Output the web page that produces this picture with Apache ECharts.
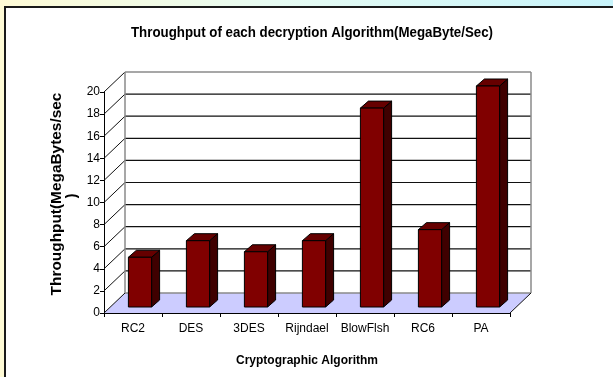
<!DOCTYPE html>
<html>
<head>
<meta charset="utf-8">
<style>
  html, body { margin: 0; padding: 0; background: #ffffff; }
  #chart { width: 613px; height: 377px; }
</style>
<script src="https://cdn.jsdelivr.net/npm/echarts@6/dist/echarts.min.js"></script>
</head>
<body>
<div id="chart"></div>
<script>
// Decryption throughput per algorithm (MegaBytes/sec)
const categories = ['RC2', 'DES', '3DES', 'Rijndael', 'BlowFlsh', 'RC6', 'PA'];
const throughput = [4.5, 6, 5, 6, 18, 7, 20];
const yTicks = [0, 2, 4, 6, 8, 10, 12, 14, 16, 18, 20];

const FONT = '"Liberation Sans", Arial, sans-serif';

// depth of the 3D box (pixels) and position/depth of the columns inside it
const WALL_DX = 21, WALL_DY = -20;
const BAR_FX = 7, BAR_FY = -6;
const BAR_DX = 8, BAR_DY = -7;

const chart = echarts.init(document.getElementById('chart'), null, { renderer: 'canvas' });

// back wall, side-wall gridlines and the floor
function renderBox(params, api) {
  const bw = api.size([1, 0])[0];
  const first = api.coord([0, 0]);
  const last = api.coord([categories.length - 1, 0]);
  const left = first[0] - bw / 2;
  const right = last[0] + bw / 2;
  const y0 = first[1];
  const yTop = api.coord([0, yTicks[yTicks.length - 1]])[1];
  const children = [];

  // floor
  children.push({
    type: 'polygon',
    shape: { points: [[left, y0], [right, y0], [right + WALL_DX, y0 + WALL_DY], [left + WALL_DX, y0 + WALL_DY]] },
    style: { fill: '#ccccff', stroke: null }
  });

  yTicks.forEach(function (v, i) {
    const y = api.coord([0, v])[1];
    const edge = (i === 0 || i === yTicks.length - 1);
    // gridline on the back wall
    children.push({
      type: 'line',
      shape: { x1: left + WALL_DX, y1: y + WALL_DY, x2: right + WALL_DX, y2: y + WALL_DY },
      style: { stroke: edge ? '#8a8a8a' : '#111111', lineWidth: edge ? 1.5 : 1.2 }
    });
    // gridline on the side wall
    children.push({
      type: 'line',
      shape: { x1: left, y1: y, x2: left + WALL_DX, y2: y + WALL_DY },
      style: { stroke: '#111111', lineWidth: 1 }
    });
  });

  // back wall vertical edges
  children.push({
    type: 'line',
    shape: { x1: left + WALL_DX, y1: y0 + WALL_DY, x2: left + WALL_DX, y2: yTop + WALL_DY },
    style: { stroke: '#8a8a8a', lineWidth: 1.5 }
  });
  children.push({
    type: 'line',
    shape: { x1: right + WALL_DX, y1: y0 + WALL_DY, x2: right + WALL_DX, y2: yTop + WALL_DY },
    style: { stroke: '#8a8a8a', lineWidth: 1.5 }
  });
  // floor right edge
  children.push({
    type: 'line',
    shape: { x1: right, y1: y0, x2: right + WALL_DX, y2: y0 + WALL_DY },
    style: { stroke: '#111111', lineWidth: 1 }
  });

  return { type: 'group', children: children };
}

// one 3D column: front, side and top faces
function renderColumn(params, api) {
  const idx = api.value(0);
  const top = api.coord([idx, api.value(1)]);
  const base = api.coord([idx, 0]);
  const w = api.size([1, 0])[0] * 0.4;
  const x1 = top[0] - w / 2 + BAR_FX;
  const x2 = x1 + w;
  const yT = top[1] + BAR_FY;
  const yB = base[1] + BAR_FY;
  const stroke = { stroke: '#000000', lineWidth: 1, lineJoin: 'round' };
  return {
    type: 'group',
    children: [
      {
        type: 'polygon',
        shape: { points: [[x2, yB], [x2 + BAR_DX, yB + BAR_DY], [x2 + BAR_DX, yT + BAR_DY], [x2, yT]] },
        style: Object.assign({ fill: '#3f0000' }, stroke)
      },
      {
        type: 'polygon',
        shape: { points: [[x1, yT], [x2, yT], [x2 + BAR_DX, yT + BAR_DY], [x1 + BAR_DX, yT + BAR_DY]] },
        style: Object.assign({ fill: '#660000' }, stroke)
      },
      {
        type: 'rect',
        shape: { x: x1, y: yT, width: w, height: yB - yT },
        style: Object.assign({ fill: '#800000' }, stroke)
      }
    ]
  };
}

chart.setOption({
  animation: false,
  backgroundColor: '#ffffff',
  graphic: [
    // slide strip along the top edge
    {
      type: 'rect', z: -10, silent: true,
      shape: { x: 0, y: 0, width: 613, height: 7 },
      style: {
        fill: new echarts.graphic.LinearGradient(0, 0, 1, 0, [
          { offset: 0, color: '#fffbd6' },
          { offset: 0.45, color: '#e6fbf2' },
          { offset: 1, color: '#c8f4fb' }
        ])
      }
    },
    {
      type: 'rect', z: -10, silent: true,
      shape: { x: 0, y: 0, width: 5, height: 377 },
      style: { fill: '#fffbd6' }
    },
    // chart frame
    {
      type: 'rect', z: -9, silent: true,
      shape: { x: 5, y: 7, width: 640, height: 400 },
      style: { fill: '#ffffff', stroke: '#1a1a1a', lineWidth: 2 }
    },
    // chart title
    {
      type: 'text', silent: true,
      x: 312, y: 33, scaleX: 0.95, scaleY: 1.1,
      style: {
        text: 'Throughput of each decryption Algorithm(MegaByte/Sec)',
        fontFamily: FONT, fontWeight: 'bold', fontSize: 14,
        fill: '#000000', align: 'center', verticalAlign: 'middle'
      }
    },
    // vertical axis title (two lines)
    {
      type: 'text', silent: true,
      x: 57, y: 194, rotation: Math.PI / 2, scaleX: 1.1,
      style: {
        text: 'Throughput(MegaBytes/sec', fontFamily: FONT, fontWeight: 'bold', fontSize: 14,
        fill: '#000000', align: 'center', verticalAlign: 'middle'
      }
    },
    {
      type: 'text', silent: true,
      x: 72, y: 196, rotation: Math.PI / 2,
      style: {
        text: ')', fontFamily: FONT, fontWeight: 'bold', fontSize: 14,
        fill: '#000000', align: 'center', verticalAlign: 'middle'
      }
    }
  ],
  grid: { left: 104, right: 103, top: 92, bottom: 64, containLabel: false },
  xAxis: {
    type: 'category',
    data: categories,
    name: 'Cryptographic Algorithm',
    nameLocation: 'middle',
    nameGap: 42,
    nameTextStyle: { fontFamily: FONT, fontWeight: 'bold', fontSize: 12, color: '#000000' },
    axisLine: { lineStyle: { color: '#000000', width: 1 } },
    axisTick: { show: true, alignWithLabel: false, length: 4, lineStyle: { color: '#000000' } },
    axisLabel: { interval: 0, fontFamily: FONT, fontSize: 12, color: '#000000', margin: 10 },
    splitLine: { show: false }
  },
  yAxis: {
    type: 'value',
    min: 0, max: 20, interval: 2,
    axisLine: { show: true, lineStyle: { color: '#000000', width: 1 } },
    axisTick: { show: true, length: 4, lineStyle: { color: '#000000' } },
    axisLabel: { fontFamily: FONT, fontSize: 12, color: '#000000', margin: 4 },
    splitLine: { show: false }
  },
  series: [
    {
      type: 'custom',
      name: 'box',
      renderItem: renderBox,
      data: [[0, 0]],
      z: 1,
      silent: true
    },
    {
      type: 'custom',
      name: 'Throughput',
      renderItem: renderColumn,
      data: throughput.map(function (v, i) { return [i, v]; }),
      encode: { x: 0, y: 1 },
      z: 3
    }
  ]
});
</script>
</body>
</html>
